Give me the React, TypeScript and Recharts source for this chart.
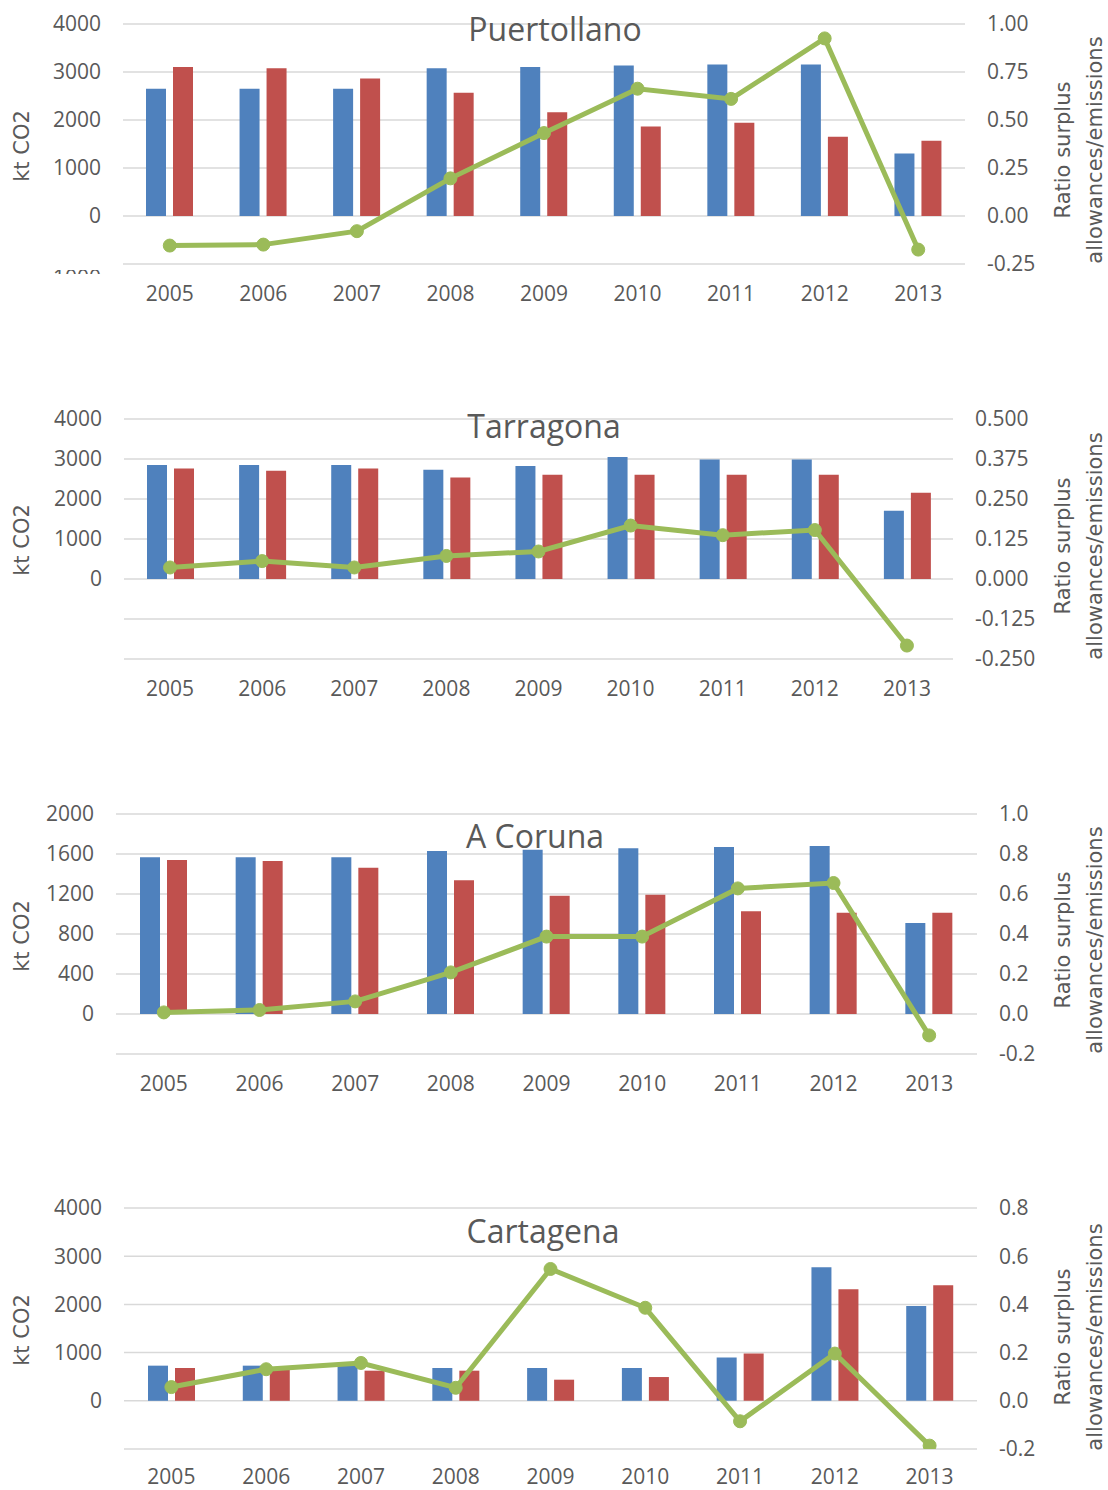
import React from 'react';
import { ComposedChart, Bar, Line, XAxis, YAxis, CartesianGrid } from 'recharts';

const years = ['2005', '2006', '2007', '2008', '2009', '2010', '2011', '2012', '2013'];

const puertollanoAllowances = [2650, 2650, 2650, 3077, 3105, 3133, 3154, 3154, 1300];
const puertollanoEmissions = [3105, 3077, 2867, 2566, 2161, 1867, 1944, 1650, 1566];
const puertollanoRatio = [-0.154, -0.149, -0.079, 0.196, 0.432, 0.663, 0.61, 0.925, -0.175];

const tarragonaAllowances = [2853, 2853, 2853, 2729, 2828, 3053, 2987, 2987, 1705];
const tarragonaEmissions = [2762, 2704, 2762, 2537, 2604, 2604, 2604, 2604, 2155];
const tarragonaRatio = [0.036, 0.056, 0.036, 0.072, 0.086, 0.167, 0.137, 0.153, -0.208];

const corunaAllowances = [1567, 1567, 1567, 1630, 1643, 1657, 1670, 1680, 910];
const corunaEmissions = [1540, 1530, 1463, 1337, 1183, 1193, 1027, 1013, 1013];
const corunaRatio = [0.008, 0.02, 0.063, 0.208, 0.387, 0.387, 0.628, 0.655, -0.107];

const cartagenaAllowances = [729, 729, 729, 681, 681, 681, 896, 2771, 1965];
const cartagenaEmissions = [681, 650, 625, 625, 438, 493, 979, 2313, 2396];
const cartagenaRatio = [0.057, 0.131, 0.157, 0.054, 0.547, 0.386, -0.085, 0.196, -0.186];

const puertollanoLeftTicks = [-1000, 0, 1000, 2000, 3000, 4000];
const puertollanoRightTicks = [-0.25, 0, 0.25, 0.5, 0.75, 1.0];
const tarragonaLeftTicks = [-2000, -1000, 0, 1000, 2000, 3000, 4000];
const tarragonaRightTicks = [-0.25, -0.125, 0, 0.125, 0.25, 0.375, 0.5];
const corunaLeftTicks = [-400, 0, 400, 800, 1200, 1600, 2000];
const corunaRightTicks = [-0.2, 0, 0.2, 0.4, 0.6, 0.8, 1.0];
const cartagenaLeftTicks = [-1000, 0, 1000, 2000, 3000, 4000];
const cartagenaRightTicks = [-0.2, 0, 0.2, 0.4, 0.6, 0.8];

const BLUE = '#4F81BD';
const RED = '#C0504D';
const GREEN = '#9BBB59';
const GRID = '#D9D9D9';
const TEXT = '#595959';
const TICK_FONT = "'Open Sans', 'Noto Sans', sans-serif";
const TITLE_FONT = "'DejaVu Sans', Verdana, sans-serif";
const TICK_SIZE = 21;

function buildData(a: number[], e: number[], r: number[]) {
  return years.map((y, i) => ({ year: y, allowances: a[i], emissions: e[i], ratio: r[i] }));
}

type PanelProps = {
  title: string;
  data: any[];
  leftTicks: number[];
  rightTicks: number[];
  decimals: number;
  top: number;
  marginTop: number;
  height: number;
  xAxisHeight: number;
  xTickMargin: number;
  plotLeft: number;
  plotRight: number;
  titleX: number;
  titleY: number;
  labelY: number;
  rightLabelY: number;
  clipNeg?: boolean;
};

const LeftTick = (props: any) => {
  const { x, y, payload, clipNeg } = props;
  const v = payload.value;
  if (v < 0) {
    if (!clipNeg) return <g />;
    return (
      <svg x={x - 70} y={y + 6} width={70} height={4} overflow="hidden">
        <text x={70} y={15} textAnchor="end" fill={TEXT} fontSize={TICK_SIZE} fontFamily={TICK_FONT}>
          {String(v)}
        </text>
      </svg>
    );
  }
  return (
    <text x={x} y={y} dy="0.355em" textAnchor="end" fill={TEXT} fontSize={TICK_SIZE} fontFamily={TICK_FONT}>
      {String(v)}
    </text>
  );
};

const Panel = (p: PanelProps) => {
  const W = 1108;
  const lmin = p.leftTicks[0];
  const lmax = p.leftTicks[p.leftTicks.length - 1];
  const rmin = p.rightTicks[0];
  const rmax = p.rightTicks[p.rightTicks.length - 1];
  return (
    <div style={{ position: 'absolute', left: 0, top: p.top, width: W, height: p.height }}>
      <ComposedChart
        width={W}
        height={p.height}
        data={p.data}
        margin={{ top: p.marginTop, left: 0, right: 0, bottom: 0 }}
        barGap={7}
      >
        <CartesianGrid yAxisId="left" vertical={false} stroke={GRID} strokeWidth={1.5} />
        <XAxis
          dataKey="year"
          axisLine={false}
          tickLine={false}
          tickMargin={p.xTickMargin}
          height={p.xAxisHeight}
          interval={0}
          tick={{ fill: TEXT, fontSize: TICK_SIZE, fontFamily: TICK_FONT }}
        />
        <YAxis
          yAxisId="left"
          type="number"
          domain={[lmin, lmax]}
          ticks={p.leftTicks}
          interval={0}
          allowDataOverflow
          width={p.plotLeft}
          axisLine={false}
          tickLine={false}
          tickMargin={16}
          tick={(tp: any) => <LeftTick {...tp} clipNeg={p.clipNeg} />}
        />
        <YAxis
          yAxisId="right"
          orientation="right"
          type="number"
          domain={[rmin, rmax]}
          ticks={p.rightTicks}
          interval={0}
          allowDataOverflow
          width={W - p.plotRight}
          axisLine={false}
          tickLine={false}
          tickMargin={16}
          tickFormatter={(v: number) => v.toFixed(p.decimals)}
          tick={{ fill: TEXT, fontSize: TICK_SIZE, fontFamily: TICK_FONT, textAnchor: 'start' }}
        />
        <Bar yAxisId="left" dataKey="allowances" fill={BLUE} barSize={20} isAnimationActive={false} />
        <Bar yAxisId="left" dataKey="emissions" fill={RED} barSize={20} isAnimationActive={false} />
        <Line
          yAxisId="right"
          type="linear"
          dataKey="ratio"
          stroke={GREEN}
          strokeWidth={5}
          dot={{ r: 6.5, fill: GREEN, stroke: GREEN, strokeWidth: 1 }}
          isAnimationActive={false}
        />
      </ComposedChart>
      <div
        style={{
          position: 'absolute',
          left: p.titleX,
          top: p.titleY - p.top,
          transform: 'translate(-50%, -50%)',
          fontFamily: TICK_FONT,
          fontSize: 32,
          color: TEXT,
          whiteSpace: 'nowrap',
          lineHeight: 1,
        }}
      >
        {p.title}
      </div>
      <div
        style={{
          position: 'absolute',
          left: 22,
          top: p.labelY - p.top,
          transform: 'translate(-50%, -50%) rotate(-90deg)',
          fontFamily: TITLE_FONT,
          fontSize: 21,
          color: TEXT,
          whiteSpace: 'nowrap',
          lineHeight: 1,
        }}
      >
        kt CO2
      </div>
      <div
        style={{
          position: 'absolute',
          left: 1079,
          top: p.rightLabelY - p.top,
          transform: 'translate(-50%, -50%) rotate(-90deg)',
          fontFamily: TITLE_FONT,
          fontSize: 21,
          color: TEXT,
          whiteSpace: 'nowrap',
          lineHeight: '32px',
          textAlign: 'center',
        }}
      >
        <div>Ratio surplus</div>
        <div>allowances/emissions</div>
      </div>
    </div>
  );
};

export default function App() {
  return (
    <div style={{ position: 'absolute', left: 0, top: 0, width: 1108, height: 1490, background: '#fff', overflow: 'hidden' }}>
      <Panel
        title="Puertollano"
        data={buildData(puertollanoAllowances, puertollanoEmissions, puertollanoRatio)}
        leftTicks={puertollanoLeftTicks}
        rightTicks={puertollanoRightTicks}
        decimals={2}
        top={0}
        marginTop={24}
        height={314}
        xAxisHeight={50}
        xTickMargin={16}
        plotLeft={123}
        plotRight={965}
        titleX={555}
        titleY={29}
        labelY={146}
        rightLabelY={150}
        clipNeg
      />
      <Panel
        title="Tarragona"
        data={buildData(tarragonaAllowances, tarragonaEmissions, tarragonaRatio)}
        leftTicks={tarragonaLeftTicks}
        rightTicks={tarragonaRightTicks}
        decimals={3}
        top={390}
        marginTop={29}
        height={319}
        xAxisHeight={50}
        xTickMargin={16}
        plotLeft={124}
        plotRight={953}
        titleX={544}
        titleY={426}
        labelY={540}
        rightLabelY={546}
      />
      <Panel
        title="A Coruna"
        data={buildData(corunaAllowances, corunaEmissions, corunaRatio)}
        leftTicks={corunaLeftTicks}
        rightTicks={corunaRightTicks}
        decimals={1}
        top={790}
        marginTop={24}
        height={314}
        xAxisHeight={50}
        xTickMargin={16}
        plotLeft={116}
        plotRight={977}
        titleX={535}
        titleY={836}
        labelY={936}
        rightLabelY={940}
      />
      <Panel
        title="Cartagena"
        data={buildData(cartagenaAllowances, cartagenaEmissions, cartagenaRatio)}
        leftTicks={cartagenaLeftTicks}
        rightTicks={cartagenaRightTicks}
        decimals={1}
        top={1180}
        marginTop={28}
        height={309}
        xAxisHeight={40}
        xTickMargin={14}
        plotLeft={124}
        plotRight={977}
        titleX={543}
        titleY={1231}
        labelY={1330}
        rightLabelY={1337}
      />
    </div>
  );
}
